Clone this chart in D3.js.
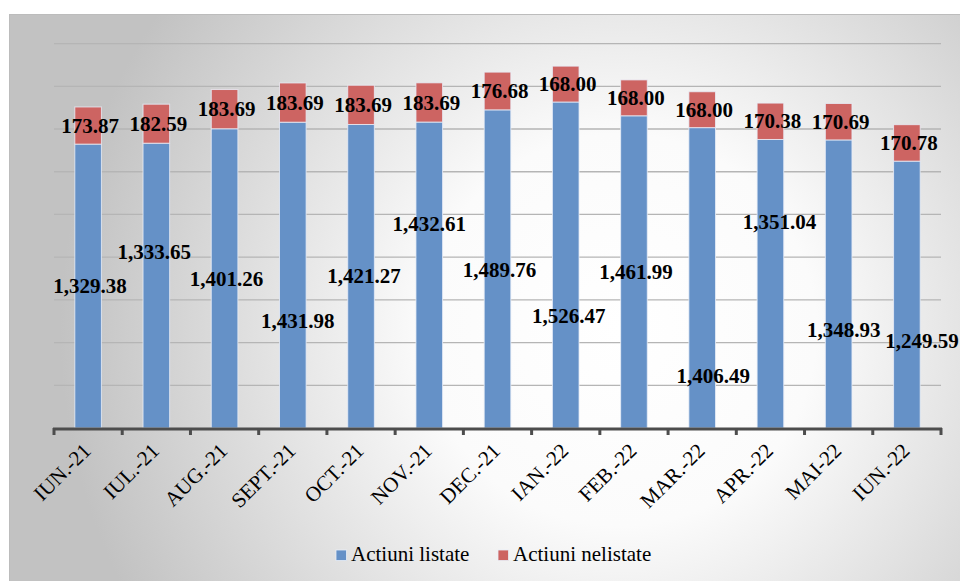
<!DOCTYPE html>
<html>
<head>
<meta charset="utf-8">
<script src="https://cdn.jsdelivr.net/npm/d3@7"></script>
<style>
  html, body { margin: 0; padding: 0; background: #ffffff; }
  svg { display: block; }
  svg text { font-family: "Liberation Serif", "Times New Roman", Times, serif; }
</style>
</head>
<body>
<svg id="chart" width="960" height="581"></svg>
<script>
// ---- data ----
const categories = ["IUN.-21", "IUL.-21", "AUG.-21", "SEPT.-21", "OCT.-21", "NOV.-21", "DEC.-21", "IAN.-22", "FEB.-22", "MAR.-22", "APR.-22", "MAI-22", "IUN.-22"];
const listed = [1329.38, 1333.65, 1401.26, 1431.98, 1421.27, 1432.61, 1489.76, 1526.47, 1461.99, 1406.49, 1351.04, 1348.93, 1249.59];
const unlisted = [173.87, 182.59, 183.69, 183.69, 183.69, 183.69, 176.68, 168.00, 168.00, 168.00, 170.38, 170.69, 170.78];
const seriesNames = ["Actiuni listate", "Actiuni nelistate"];
const yTicks = [200, 400, 600, 800, 1000, 1200, 1400, 1600, 1800];

// label placement (manually dragged labels in the original), value-space height and px shift
const listedLabelAt = [665, 824, 698, 501, 712, 955, 740, 525, 731, 244, 965, 459, 407];
const listedLabelDx = [2, -2, 2, 5, 3, 0, 2, 3, 2, 11, 9, 5, 15];

// ---- layout ----
const W = 960, H = 581;
const plot = { left: 54, right: 941, top: 43.6, bottom: 428 };
const colors = ["#6591C7", "#CD6462"];

const svg = d3.select("#chart");
const defs = svg.append("defs");
const grad = defs.append("radialGradient")
  .attr("id", "bg").attr("gradientUnits", "userSpaceOnUse")
  .attr("cx", 620).attr("cy", 330).attr("r", 560);
grad.append("stop").attr("offset", "0%").attr("stop-color", "#ffffff");
grad.append("stop").attr("offset", "35%").attr("stop-color", "#fbfbfb");
grad.append("stop").attr("offset", "100%").attr("stop-color", "#c2c2c2");

svg.append("rect").attr("x", 9.5).attr("y", 14.5).attr("width", W).attr("height", H)
  .attr("fill", "url(#bg)").attr("stroke", "#bcbcbc").attr("stroke-width", 1);

const x = d3.scaleBand().domain(categories).range([plot.left, plot.right])
  .paddingInner(0.61).paddingOuter(0.305);
const y = d3.scaleLinear().domain([0, 1800]).range([plot.bottom, plot.top]);

// gridlines
svg.append("g").selectAll("line").data(yTicks).join("line")
  .attr("x1", plot.left).attr("x2", plot.right)
  .attr("y1", d => y(d)).attr("y2", d => y(d))
  .attr("stroke", "#b5b5b5").attr("stroke-width", 1.3);

// stacked bars
const stackData = categories.map((c, i) => ({ cat: c, listed: listed[i], unlisted: unlisted[i] }));
const stack = d3.stack().keys(["listed", "unlisted"])(stackData);
const gBars = svg.append("g");
stack.forEach((layer, li) => {
  gBars.append("g").selectAll("rect").data(layer).join("rect")
    .attr("x", d => x(d.data.cat))
    .attr("width", x.bandwidth())
    .attr("y", d => y(d[1]))
    .attr("height", d => y(d[0]) - y(d[1]))
    .attr("fill", colors[li])
    .attr("stroke", "#e8eef7").attr("stroke-opacity", 0.8).attr("stroke-width", 1);
});

// x axis
const step = x.step();
const axisG = svg.append("g");
axisG.append("line").attr("x1", plot.left - 1).attr("x2", plot.right + 1)
  .attr("y1", plot.bottom + 1).attr("y2", plot.bottom + 1)
  .attr("stroke", "#4d4d4d").attr("stroke-width", 3);
axisG.selectAll("line.tick").data(d3.range(categories.length + 1)).join("line")
  .attr("class", "tick")
  .attr("x1", i => plot.left + i * step).attr("x2", i => plot.left + i * step)
  .attr("y1", plot.bottom).attr("y2", plot.bottom + 7)
  .attr("stroke", "#4d4d4d").attr("stroke-width", 3);

axisG.selectAll("text").data(categories).join("text")
  .attr("transform", d => `translate(${x(d) + x.bandwidth() / 2 + 4},${plot.bottom + 24}) rotate(-45)`)
  .attr("text-anchor", "end")
  .attr("font-size", 21).attr("fill", "#000")
  .text(d => d);

// data labels
const fmt = d3.format(",.2f");
svg.append("g").selectAll("text").data(stack[0]).join("text")
  .attr("x", (d, i) => x(d.data.cat) + x.bandwidth() / 2 + listedLabelDx[i])
  .attr("y", (d, i) => y(listedLabelAt[i]))
  .attr("dy", "0.34em")
  .attr("text-anchor", "middle")
  .attr("font-weight", "bold").attr("font-size", 21)
  .attr("fill", "#000")
  .text(d => fmt(d.data.listed));

svg.append("g").selectAll("text").data(stack[1]).join("text")
  .attr("x", d => x(d.data.cat) + x.bandwidth() / 2 + 2)
  .attr("y", d => (y(d[0]) + y(d[1])) / 2)
  .attr("dy", "0.34em")
  .attr("text-anchor", "middle")
  .attr("font-weight", "bold").attr("font-size", 21)
  .attr("fill", "#000")
  .text(d => fmt(d.data.unlisted));

// legend
const legend = svg.append("g");
const legendItems = [{ name: seriesNames[0], color: colors[0], x: 336 }, { name: seriesNames[1], color: colors[1], x: 498 }];
legendItems.forEach(it => {
  legend.append("rect").attr("x", it.x).attr("y", 550).attr("width", 10.5).attr("height", 10.5)
    .attr("fill", it.color).attr("stroke", "#e8eef7").attr("stroke-width", 0.8);
  legend.append("text").attr("x", it.x + 15).attr("y", 561)
    .attr("font-size", 21).attr("fill", "#000")
    .text(it.name);
});
</script>
</body>
</html>
